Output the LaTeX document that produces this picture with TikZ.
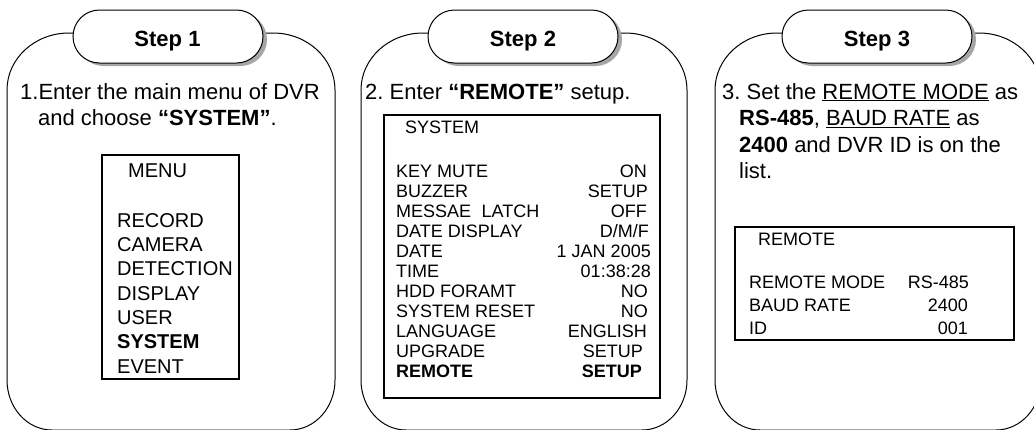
\documentclass[tikz,border=0pt]{standalone}
\usepackage{fontspec}
\setmainfont{Liberation Sans}
\frenchspacing
\begin{document}
\begin{tikzpicture}[x=1pt,y=-1pt,
  txt/.style={inner sep=0pt,anchor=base west,font=\fontsize{22}{26}\selectfont},
  steplbl/.style={inner sep=0pt,anchor=base,font=\fontsize{22}{26}\selectfont\bfseries},
  menuA/.style={inner sep=0pt,anchor=base west,font=\fontsize{20}{24}\selectfont},
  menuB/.style={inner sep=0pt,anchor=base west,font=\fontsize{18}{22}\selectfont},
  valB/.style={inner sep=0pt,anchor=base east,font=\fontsize{18}{22}\selectfont},
  panelline/.style={draw=black,line width=1pt,fill=white},
  pillshape/.style={draw=black,line width=1pt,fill=white,rounded corners=26.5pt},
  pillshadow/.style={fill=black!35,draw=none,rounded corners=26.5pt},
  screenbox/.style={draw=black,line width=2pt}]
\useasboundingbox (0,0) rectangle (1034,429);
\clip (0,0) rectangle (1034,429);
\fill[white] (0,0) rectangle (1034,429);
\newcommand\drawpanel[2]{%
  \draw[panelline] (#1,90) .. controls (#1,58.5) and ({#1+27.8},33) .. ({#1+62},33)
    -- ({#2-62},33) .. controls ({#2-27.8},33) and (#2,58.5) .. (#2,90)
    -- (#2,380) .. controls (#2,407.6) and ({#2-20.1},430) .. ({#2-45},430)
    -- ({#1+45},430) .. controls ({#1+20.1},430) and (#1,407.6) .. (#1,380) -- cycle;}
\newcommand\drawpill[1]{%
  \fill[pillshadow] ({#1+4},13) rectangle ({#1+194},66);
  \draw[pillshape] (#1,10) rectangle ({#1+190},63);}
% panels
\drawpanel{7}{335}
\drawpanel{361}{687}
\drawpanel{715}{1041}
% pills
\drawpill{73}
\drawpill{428}
\drawpill{782}
\node[steplbl] (s1) at (167.5,46.5) {Step 1};
\node[steplbl] (s2) at (523,46.5) {Step 2};
\node[steplbl] (s3) at (877,46.5) {Step 3};
% panel 1 text
\node[txt] (p1a) at (20,99) {1.Enter the main menu of DVR};
\node[txt] (p1b) at (38,125.5) {and choose \textbf{“SYSTEM”}.};
\draw[screenbox] (102,155) rectangle (239,379);
\node[menuA] (m0) at (128,177) {MENU};
\node[menuA] (m1) at (117,227) {RECORD};
\node[menuA] (m2) at (117,251.3) {CAMERA};
\node[menuA] (m3) at (117,275.6) {DETECTION};
\node[menuA] (m4) at (117,300) {DISPLAY};
\node[menuA] (m5) at (117,324.3) {USER};
\node[menuA] (m6) at (117,348.6) {\bfseries SYSTEM};
\node[menuA] (m7) at (117,373) {EVENT};
% panel 2 text
\node[txt] (p2a) at (365,99) {2. Enter \textbf{“REMOTE”} setup.};
\draw[screenbox] (384,115) rectangle (660,398);
\node[menuB] (t0) at (405,133) {SYSTEM};
\node[menuB] (r1) at (396,177) {KEY MUTE};
\node[menuB] (r2) at (396,197) {BUZZER};
\node[menuB] (r3) at (396,217) {MESSAE\hspace{10.5pt}LATCH};
\node[menuB] (r4) at (396,237) {DATE DISPLAY};
\node[menuB] (r5) at (396,257) {DATE};
\node[menuB] (r6) at (396,277) {TIME};
\node[menuB] (r7) at (396,297) {HDD FORAMT};
\node[menuB] (r8) at (396,317) {SYSTEM RESET};
\node[menuB] (r9) at (396,337) {LANGUAGE};
\node[menuB] (r10) at (396,357) {UPGRADE};
\node[menuB] (r11) at (396,377) {\bfseries REMOTE};
\node[valB] (v1) at (647,177) {ON};
\node[valB] (v2) at (648,197) {SETUP};
\node[valB] (v3) at (647,217) {OFF};
\node[valB] (v4) at (649,237) {D/M/F};
\node[valB] (v5) at (651,257) {1 JAN 2005};
\node[valB] (v6) at (651,277) {01:38:28};
\node[valB] (v7) at (648,297) {NO};
\node[valB] (v8) at (648,317) {NO};
\node[valB] (v9) at (647,337) {ENGLISH};
\node[valB] (v10) at (643,357) {SETUP};
\node[valB] (v11) at (642,377) {\bfseries SETUP};
% panel 3 text
\node[txt] (p3a) at (722,99) {3. Set the \underline{REMOTE MODE} as};
\node[txt] (p3b) at (739,125.5) {\textbf{RS-485}, \underline{BAUD RATE} as};
\node[txt] (p3c) at (739,152) {\textbf{2400} and DVR ID is on the};
\node[txt] (p3d) at (739,178) {list.};
\draw[screenbox] (735,227) rectangle (1014,340);
\node[menuB] (q0) at (758,245) {REMOTE};
\node[menuB] (q1) at (749,288) {REMOTE MODE};
\node[menuB] (q2) at (749,311) {BAUD RATE};
\node[menuB] (q3) at (749,334) {ID};
\node[valB] (w1) at (969,288) {RS-485};
\node[valB] (w2) at (968,311) {2400};
\node[valB] (w3) at (968,334) {001};
\end{tikzpicture}
\end{document}
